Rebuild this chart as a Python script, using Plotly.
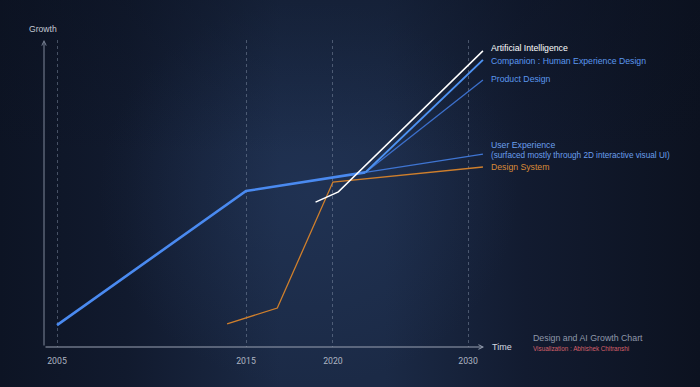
import numpy as np
import plotly.graph_objects as go

# ---------------- data ----------------
tick_years = [2005, 2015, 2020, 2030]
tick_slots = [0.0, 10.0, 14.6, 21.75]   # uneven timeline spacing of the original chart

main_years = [2005, 2015, 2022.4]
main_growth = [7.3, 52.0, 58.2]

ux_years = [2022.4, 2031.1]
ux_growth = [58.2, 64.3]

companion_years = [2022.4, 2031.1]
companion_growth = [58.2, 95.7]

product_years = [2022.4, 2031.1]
product_growth = [58.2, 89.0]

ai_years = [2019.0, 2020.4, 2031.1]
ai_growth = [48.3, 51.7, 98.7]

ds_years = [2014.0, 2016.8, 2020.0, 2031.1]
ds_growth = [7.7, 13.0, 55.0, 60.0]

label_texts = ["Artificial Intelligence", "Companion : Human Experience Design", "Product Design",
               "User Experience", "(surfaced mostly through 2D interactive visual UI)", "Design System"]
label_growth = [99.7, 95.3, 89.3, 67.3, 64.0, 60.0]
label_colors = ["#ffffff", "#5b97ee", "#5b97ee", "#6a9fec", "#6a9fec", "#d98a38"]
label_sizes = [8.7, 8.7, 8.7, 8.7, 8.2, 8.7]


def to_slot(year):
    year = np.asarray(year, dtype=float)
    last_slope = (tick_slots[-1] - tick_slots[-2]) / (tick_years[-1] - tick_years[-2])
    inside = np.interp(year, tick_years, tick_slots)
    return np.where(year > tick_years[-1], tick_slots[-1] + (year - tick_years[-1]) * last_slope, inside)


W, H = 700, 387
# chart area in pixels
L_PX, R_PX, T_PX, B_PX = 44, 492, 40, 347
PX_PER_SLOT = 18.9
X0_PX = 57
x_range = [(L_PX - X0_PX) / PX_PER_SLOT, (R_PX - X0_PX) / PX_PER_SLOT]
y_range = [0, (B_PX - T_PX) / 3.0]

fig = go.Figure()

# ---------------- background (full-page subplot xy) ----------------
fig.add_trace(go.Scatter(
    x=[0, 1, 1, 0, 0], y=[0, 0, 1, 1, 0], mode="lines", line=dict(width=0),
    fill="toself", hoverinfo="skip", showlegend=False, xaxis="x", yaxis="y",
    fillgradient=dict(type="horizontal", colorscale=[
        [0.0, "#0d1424"], [0.18, "#111a2e"], [0.40, "#1b2a46"], [0.55, "#1b2a46"],
        [0.75, "#121b30"], [1.0, "#0c1220"]]),
))
fig.add_trace(go.Scatter(
    x=[0.14, 0.74, 0.74, 0.14, 0.14], y=[0.0, 0.0, 1.0, 1.0, 0.0], mode="lines", line=dict(width=0),
    fill="toself", hoverinfo="skip", showlegend=False, xaxis="x", yaxis="y",
    fillgradient=dict(type="radial", colorscale=[
        [0.0, "rgba(42,66,108,0.32)"], [1.0, "rgba(42,66,108,0)"]]),
))
fig.add_trace(go.Scatter(
    x=[0, 1, 1, 0, 0], y=[0.6, 0.6, 1.0, 1.0, 0.6], mode="lines", line=dict(width=0),
    fill="toself", hoverinfo="skip", showlegend=False, xaxis="x", yaxis="y",
    fillgradient=dict(type="vertical", colorscale=[
        [0.0, "rgba(10,16,30,0)"], [1.0, "rgba(10,16,30,0.35)"]]),
))

# ---------------- series (chart subplot x2y2) ----------------
def add_line(years, growth, color, width):
    fig.add_trace(go.Scatter(
        x=to_slot(years), y=growth, mode="lines", xaxis="x2", yaxis="y2",
        line=dict(color=color, width=width), hoverinfo="skip", showlegend=False))

add_line(ds_years, ds_growth, "#cf7f2c", 1.3)
add_line(ux_years, ux_growth, "#3f75d2", 1.3)
add_line(product_years, product_growth, "#3c70cc", 1.3)
add_line(companion_years, companion_growth, "#4d92f2", 2.0)
add_line(main_years, main_growth, "#4a8af0", 2.6)
add_line(ai_years, ai_growth, "#ffffff", 1.5)

annotations = []
label_x = (489 - X0_PX) / PX_PER_SLOT
for txt, g, c, s in zip(label_texts, label_growth, label_colors, label_sizes):
    annotations.append(dict(x=label_x, y=g, xref="x2", yref="y2", text=txt, showarrow=False,
                            xanchor="left", yanchor="middle",
                            font=dict(family="Liberation Sans, Arial", size=s, color=c)))

# axis arrows
annotations.append(dict(x=x_range[0], y=y_range[1], ax=x_range[0], ay=0, xref="x2", yref="y2",
                        axref="x2", ayref="y2", text="", showarrow=True, arrowhead=5, arrowsize=0.9,
                        arrowwidth=1, arrowcolor="#7e879a", standoff=0, startstandoff=0))
annotations.append(dict(x=(484 - X0_PX) / PX_PER_SLOT, y=0, ax=x_range[0], ay=0, xref="x2", yref="y2",
                        axref="x2", ayref="y2", text="", showarrow=True, arrowhead=5, arrowsize=0.9,
                        arrowwidth=1, arrowcolor="#9aa2b3", standoff=0, startstandoff=0))

annotations += [
    dict(x=43 / W, y=1 - 29 / H, xref="paper", yref="paper", text="Growth", showarrow=False,
         xanchor="center", yanchor="middle", font=dict(family="Liberation Sans, Arial", size=8.6, color="#c3c9d3")),
    dict(x=490 / W, y=1 - 347 / H, xref="paper", yref="paper", text="Time", showarrow=False,
         xanchor="left", yanchor="middle", font=dict(family="Liberation Sans, Arial", size=9, color="#d3d8e0")),
    dict(x=531 / W, y=1 - 338 / H, xref="paper", yref="paper", text="Design and AI Growth Chart", showarrow=False,
         xanchor="left", yanchor="middle", font=dict(family="Liberation Sans, Arial", size=8.8, color="#8f98a9")),
    dict(x=531 / W, y=1 - 348.5 / H, xref="paper", yref="paper", text="Visualization : Abhishek Chitranshi",
         showarrow=False, xanchor="left", yanchor="middle",
         font=dict(family="Liberation Sans, Arial", size=6.3, color="#d6606a")),
]

fig.update_layout(
    width=W, height=H, margin=dict(l=0, r=0, t=0, b=0),
    paper_bgcolor="#0e1526", plot_bgcolor="rgba(0,0,0,0)",
    showlegend=False,
    xaxis=dict(domain=[0, 1], range=[0, 1], visible=False, fixedrange=True),
    yaxis=dict(domain=[0, 1], range=[0, 1], visible=False, fixedrange=True),
    xaxis2=dict(domain=[L_PX / W, R_PX / W], range=x_range, anchor="y2",
                tickvals=tick_slots, ticktext=[str(y) for y in tick_years],
                showgrid=True, gridcolor="rgba(140,152,175,0.45)", gridwidth=1, griddash="dot",
                zeroline=False, showline=False, ticks="outside", ticklen=6, tickcolor="rgba(0,0,0,0)",
                tickfont=dict(family="Roboto", size=8.7, color="#aeb5c2")),
    yaxis2=dict(domain=[1 - B_PX / H, 1 - T_PX / H], range=y_range, anchor="x2",
                showgrid=False, zeroline=False, showline=False, showticklabels=False, ticks=""),
    annotations=annotations,
)

fig.write_html("out.html", config={"displayModeBar": False},
               post_script="document.body.style.margin='0';document.body.style.background='#0e1526';")
